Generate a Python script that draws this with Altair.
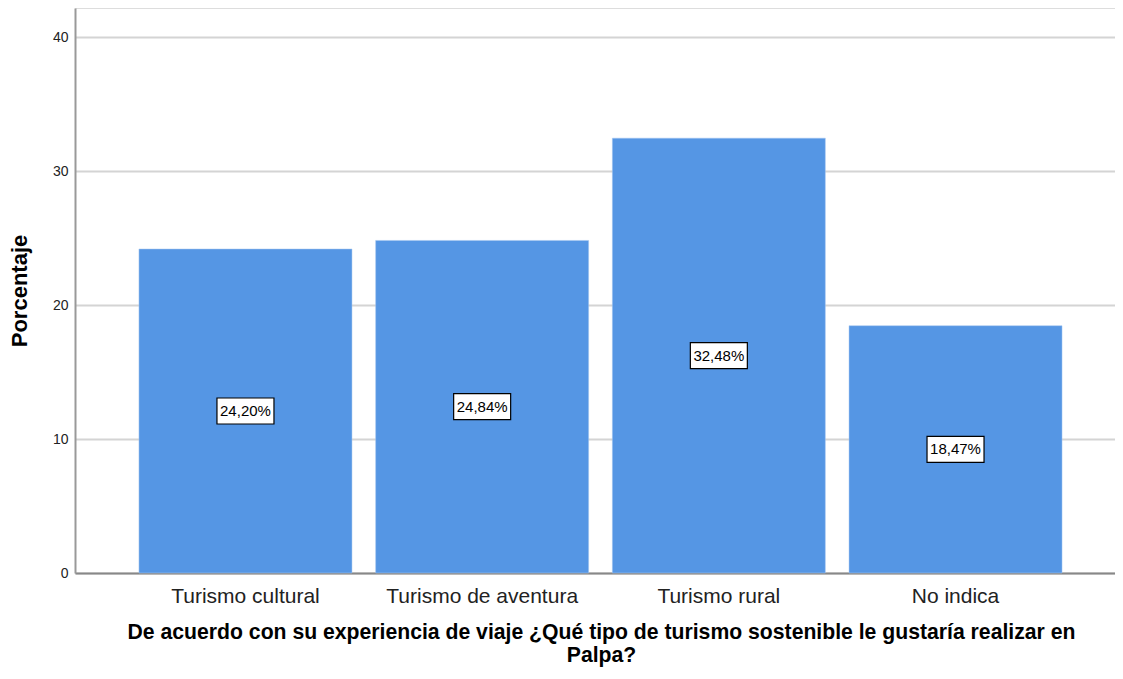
import altair as alt
import pandas as pd

categories = ["Turismo cultural", "Turismo de aventura", "Turismo rural", "No indica"]
values = [24.20, 24.84, 32.48, 18.47]
labels = ["24,20%", "24,84%", "32,48%", "18,47%"]

df = pd.DataFrame({"cat": categories, "val": values, "lab": labels})

FONT = "Liberation Sans"

x = alt.X("cat:N", sort=categories,
          scale=alt.Scale(paddingInner=0.1, paddingOuter=0.247, align=0.547),
          axis=alt.Axis(title=["De acuerdo con su experiencia de viaje ¿Qué tipo de turismo sostenible le gustaría realizar en", "Palpa?"],
                        labelAngle=0, labelFontSize=21, labelColor="#222222", labelFont=FONT,
                        labelPadding=12, labelLimit=0, ticks=False, domainColor="#888888", domainWidth=2,
                        titleFont=FONT, titleFontSize=21.2, titleFontWeight="bold", titleColor="#000000",
                        titlePadding=15, titleLineHeight=23.5, titleX=526, titleAlign="center",
                        grid=False))

bars = alt.Chart(df).mark_bar(color="#5596e4", stroke="#a9c8f0", strokeWidth=0.5).encode(
    x=x,
    y=alt.Y("val:Q", scale=alt.Scale(domain=[0, 42.2], nice=False),
            axis=alt.Axis(title="Porcentaje", values=[0, 10, 20, 30, 40], ticks=False,
                          labelFontSize=14, labelColor="#222222", labelFont=FONT, labelPadding=7,
                          domainColor="#999999", domainWidth=2,
                          gridColor="#d4d4d4", gridWidth=2,
                          titleFont=FONT, titleFontSize=22, titleFontWeight="bold", titleColor="#000000",
                          titlePadding=21))
)

mid = alt.Chart(df).transform_calculate(mid="datum.val / 2")

boxes = mid.mark_point(
    shape="M-1,-0.456L1,-0.456L1,0.456L-1,0.456Z", size=3249, filled=False,
    fill="white", fillOpacity=1, stroke="black", strokeWidth=1.2, opacity=1
).encode(x=alt.X("cat:N", sort=categories), y=alt.Y("mid:Q"))

texts = mid.mark_text(font=FONT, fontSize=15, color="black", baseline="middle").encode(
    x=alt.X("cat:N", sort=categories), y=alt.Y("mid:Q"), text="lab:N")

chart = alt.layer(bars, boxes, texts).properties(
    width=1040, height=565,
    autosize=alt.AutoSizeParams(type="none"),
    padding={"left": 67, "top": 0, "right": 0, "bottom": 98},
).configure_view(stroke=None).configure(background="white")

chart.save("out.html", embed_options={"renderer": "svg", "actions": False})
